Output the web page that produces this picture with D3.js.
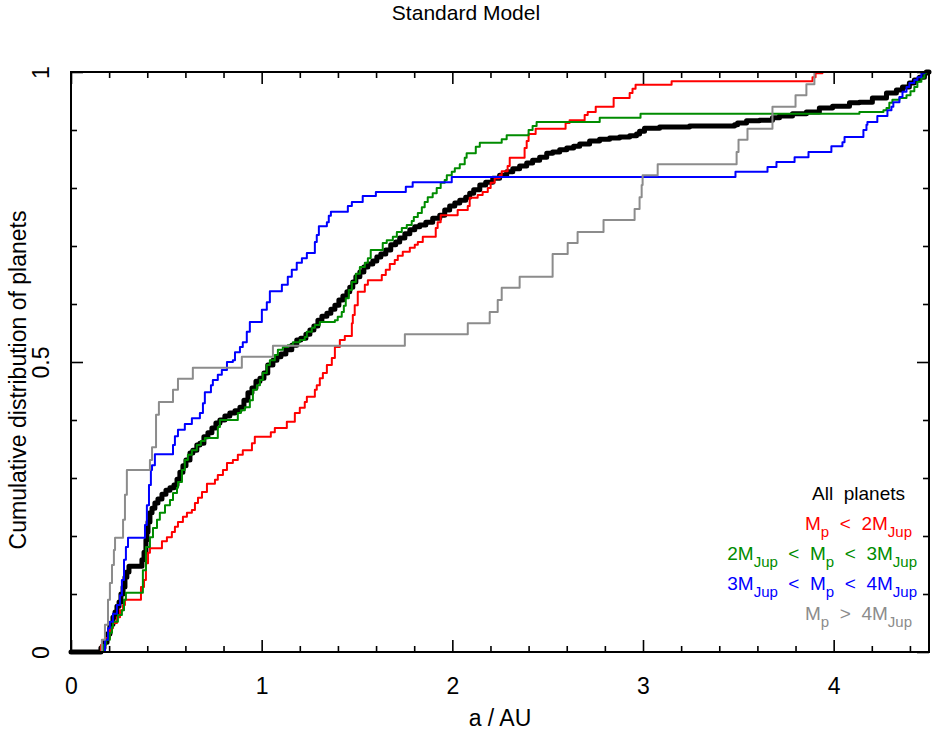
<!DOCTYPE html>
<html><head><meta charset="utf-8">
<script src="https://cdn.jsdelivr.net/npm/d3@7/dist/d3.min.js"></script>
<style>
html,body{margin:0;padding:0;background:#fff;}
svg text{font-family:"Liberation Sans","DejaVu Sans",sans-serif;white-space:pre;}
</style></head>
<body><svg id="c" width="932" height="738"></svg>
<script>
// ---- data (semi-major axis a in AU, cumulative fraction) ----
const xMajorTicks = [0, 1, 2, 3, 4];
const yMajorTicks = [0, 0.5, 1];
const yTickLabels = ["0", "0.5", "1"];

const allA = [0,0.157,0.173,0.189,0.204,0.220,0.231,0.241,0.252,0.262,0.273,0.283,0.293,0.304,0.372,0.383,0.393,0.398,0.404,0.414,0.425,0.440,0.456,0.477,0.498,0.519,0.540,0.556,0.571,0.587,0.603,0.624,0.639,0.660,0.676,0.697,0.718,0.739,0.760,0.781,0.807,0.833,0.860,0.886,0.907,0.928,0.949,0.970,0.991,1.012,1.032,1.059,1.080,1.101,1.127,1.158,1.184,1.205,1.232,1.253,1.274,1.295,1.316,1.342,1.363,1.384,1.405,1.426,1.447,1.462,1.478,1.494,1.515,1.536,1.557,1.583,1.604,1.625,1.651,1.677,1.703,1.724,1.751,1.777,1.803,1.829,1.861,1.897,1.934,1.960,1.986,2.013,2.039,2.070,2.091,2.112,2.144,2.175,2.212,2.248,2.285,2.317,2.353,2.390,2.421,2.458,2.495,2.526,2.563,2.600,2.636,2.668,2.720,2.772,2.825,2.877,2.930,2.966,2.982,3.008,3.087,3.244,3.480,3.496,3.543,3.611,3.679,3.716,3.784,3.857,3.925,3.994,4.083,4.135,4.203,4.277,4.329,4.361,4.397,4.423,4.450,4.476,4.486,4.5];
const allF = [0,0.007,0.017,0.031,0.048,0.060,0.069,0.079,0.086,0.100,0.112,0.129,0.138,0.148,0.159,0.172,0.193,0.207,0.224,0.240,0.248,0.257,0.264,0.272,0.279,0.283,0.288,0.298,0.310,0.321,0.331,0.343,0.348,0.357,0.360,0.371,0.378,0.386,0.395,0.400,0.407,0.412,0.416,0.422,0.434,0.447,0.455,0.467,0.472,0.481,0.495,0.503,0.509,0.514,0.521,0.529,0.538,0.541,0.548,0.555,0.562,0.572,0.579,0.584,0.591,0.598,0.607,0.614,0.621,0.629,0.638,0.647,0.655,0.664,0.669,0.674,0.681,0.686,0.693,0.702,0.707,0.714,0.721,0.728,0.733,0.736,0.741,0.748,0.753,0.762,0.769,0.774,0.779,0.784,0.791,0.797,0.805,0.810,0.817,0.822,0.828,0.833,0.838,0.843,0.848,0.853,0.860,0.862,0.866,0.869,0.872,0.876,0.881,0.884,0.886,0.888,0.890,0.893,0.898,0.903,0.905,0.907,0.909,0.912,0.916,0.917,0.921,0.924,0.928,0.931,0.938,0.941,0.947,0.948,0.955,0.964,0.969,0.974,0.981,0.986,0.991,0.998,1.0,1.0];

const lowA = [0,0.157,0.178,0.204,0.220,0.241,0.257,0.273,0.283,0.367,0.383,0.393,0.404,0.414,0.477,0.503,0.529,0.545,0.561,0.587,0.608,0.634,0.650,0.666,0.687,0.713,0.755,0.770,0.797,0.818,0.849,0.875,0.901,0.949,0.964,1.048,1.069,1.132,1.174,1.200,1.226,1.237,1.279,1.289,1.305,1.321,1.342,1.368,1.384,1.410,1.436,1.473,1.478,1.488,1.504,1.541,1.557,1.630,1.651,1.672,1.698,1.714,1.740,1.777,1.803,1.819,1.845,1.913,1.923,1.939,2.028,2.081,2.091,2.133,2.159,2.186,2.201,2.222,2.248,2.259,2.290,2.301,2.379,2.390,2.400,2.437,2.594,2.615,2.694,2.710,2.752,2.846,2.930,2.945,2.961,3.150,3.889,3.905,3.941,4.5];
const lowF = [0,0.012,0.024,0.041,0.050,0.060,0.072,0.081,0.090,0.112,0.124,0.153,0.171,0.179,0.191,0.198,0.207,0.216,0.224,0.233,0.240,0.245,0.257,0.266,0.276,0.290,0.297,0.305,0.314,0.326,0.331,0.340,0.348,0.360,0.371,0.379,0.386,0.397,0.412,0.421,0.431,0.440,0.452,0.460,0.472,0.481,0.495,0.507,0.526,0.538,0.545,0.567,0.581,0.598,0.621,0.633,0.641,0.650,0.659,0.669,0.676,0.683,0.690,0.697,0.702,0.707,0.716,0.731,0.741,0.753,0.762,0.769,0.783,0.788,0.793,0.800,0.809,0.817,0.822,0.829,0.838,0.852,0.869,0.881,0.893,0.902,0.912,0.917,0.926,0.931,0.940,0.955,0.964,0.971,0.978,0.984,0.991,0.998,1.0,1.0];

const midA = [0,0.168,0.183,0.204,0.215,0.220,0.246,0.267,0.278,0.288,0.377,0.393,0.414,0.430,0.451,0.466,0.493,0.519,0.535,0.556,0.561,0.582,0.597,0.613,0.634,0.660,0.681,0.702,0.770,0.781,0.875,0.891,0.912,0.938,0.954,0.975,0.991,1.006,1.027,1.043,1.069,1.085,1.111,1.137,1.164,1.200,1.226,1.237,1.263,1.279,1.305,1.384,1.399,1.420,1.431,1.441,1.457,1.473,1.494,1.515,1.541,1.557,1.572,1.635,1.656,1.688,1.709,1.735,1.761,1.787,1.798,1.819,1.840,1.855,1.871,1.897,1.918,1.939,1.960,1.971,1.997,2.013,2.039,2.065,2.075,2.123,2.144,2.259,2.285,2.400,2.421,2.442,2.773,2.987,4.135,4.261,4.277,4.292,4.308,4.345,4.382,4.403,4.423,4.439,4.460,4.476,4.486,4.5];
const midF = [0,0.012,0.021,0.033,0.043,0.052,0.064,0.072,0.090,0.102,0.141,0.181,0.198,0.214,0.228,0.240,0.253,0.262,0.274,0.283,0.293,0.314,0.331,0.340,0.348,0.357,0.364,0.369,0.388,0.400,0.412,0.417,0.422,0.434,0.452,0.460,0.469,0.481,0.495,0.503,0.512,0.521,0.526,0.529,0.534,0.538,0.543,0.552,0.559,0.564,0.569,0.572,0.578,0.586,0.597,0.610,0.624,0.638,0.652,0.664,0.671,0.679,0.693,0.705,0.710,0.716,0.724,0.731,0.736,0.743,0.750,0.757,0.767,0.776,0.784,0.791,0.800,0.809,0.814,0.822,0.828,0.834,0.841,0.852,0.860,0.871,0.878,0.884,0.891,0.900,0.907,0.914,0.921,0.928,0.931,0.934,0.938,0.947,0.952,0.955,0.960,0.967,0.974,0.983,0.990,0.998,1.0,1.0];

const highA = [0,0.168,0.178,0.194,0.204,0.220,0.241,0.257,0.267,0.278,0.288,0.299,0.388,0.398,0.409,0.419,0.425,0.440,0.535,0.545,0.561,0.597,0.634,0.676,0.692,0.702,0.734,0.744,0.770,0.791,0.818,0.849,0.860,0.886,0.901,0.922,0.938,1.001,1.027,1.043,1.106,1.137,1.158,1.184,1.211,1.237,1.279,1.289,1.300,1.342,1.352,1.363,1.452,1.473,1.530,1.599,1.756,1.792,1.997,3.485,3.653,3.700,3.795,3.868,3.988,4.046,4.057,4.156,4.172,4.177,4.229,4.282,4.303,4.313,4.345,4.361,4.382,4.397,4.423,4.439,4.460,4.476,4.5];
const highF = [0,0,0.021,0.041,0.052,0.066,0.081,0.098,0.124,0.159,0.181,0.197,0.219,0.253,0.288,0.314,0.322,0.341,0.357,0.372,0.383,0.393,0.403,0.412,0.429,0.448,0.460,0.469,0.478,0.486,0.500,0.503,0.517,0.526,0.534,0.552,0.569,0.590,0.603,0.622,0.633,0.647,0.659,0.671,0.679,0.688,0.707,0.719,0.734,0.741,0.752,0.759,0.769,0.776,0.786,0.793,0.802,0.810,0.819,0.828,0.836,0.845,0.853,0.862,0.872,0.879,0.888,0.900,0.909,0.914,0.924,0.934,0.940,0.948,0.957,0.966,0.974,0.981,0.986,0.991,0.998,1.0,1.0];

const topA = [0,0.162,0.178,0.194,0.204,0.215,0.225,0.231,0.273,0.283,0.293,0.414,0.425,0.446,0.461,0.535,0.561,0.639,0.896,1.059,1.751,2.081,2.196,2.238,2.259,2.353,2.526,2.605,2.657,2.793,2.956,2.982,2.993,2.998,3.077,3.491,3.501,3.548,3.679,3.800,3.857,3.899,4.5];
const topF = [0,0.021,0.047,0.090,0.119,0.150,0.176,0.197,0.228,0.271,0.314,0.331,0.353,0.409,0.431,0.452,0.471,0.490,0.509,0.528,0.548,0.567,0.586,0.607,0.628,0.647,0.686,0.705,0.724,0.745,0.764,0.784,0.805,0.822,0.841,0.862,0.883,0.902,0.940,0.960,0.979,1.0,1.0];

const seriesColors = ["#000000","#ff0000","#008c00","#0000ff","#8c8c8c"];

// ---- chart ----
const svg = d3.select("#c");
const x = d3.scaleLinear().domain([0, 4.5]).range([71, 929]);
const y = d3.scaleLinear().domain([0, 1]).range([652, 72]);

const line = d3.line().x(d => x(d[0])).y(d => y(d[1])).curve(d3.curveStepAfter);
const zipS = (a, f) => a.map((v, i) => [v, f[i]]);

const series = [
  {data: zipS(allA, allF), color: seriesColors[0], w: 5},
  {data: zipS(lowA, lowF), color: seriesColors[1], w: 2},
  {data: zipS(midA, midF), color: seriesColors[2], w: 2},
  {data: zipS(highA, highF), color: seriesColors[3], w: 2},
  {data: zipS(topA, topF), color: seriesColors[4], w: 2}
];
const g = svg.append("g");
series.forEach(s => {
  g.append("path").datum(s.data).attr("d", line)
    .attr("fill", "none").attr("stroke", s.color)
    .attr("stroke-width", s.w).attr("stroke-linejoin", "round").attr("stroke-linecap", "round");
});

// axes (ticks inward on all four sides)
const xMinor = d3.range(0, 4.5001, 0.2).filter(v => Math.abs(v - Math.round(v)) > 1e-6);
const yMinor = d3.range(0, 1.0001, 0.1).filter(v => Math.abs(v * 2 - Math.round(v * 2)) > 1e-6);

function axisStyle(sel) {
  sel.select(".domain").remove();
  sel.selectAll("line").attr("stroke", "#000").attr("stroke-width", 1.6);
  sel.selectAll("text").attr("fill", "#000").style("font-size", "23px");
}
const xa = svg.append("g").attr("transform", "translate(0,652)")
  .call(d3.axisBottom(x).tickValues(xMajorTicks).tickSize(-12).tickPadding(26).tickFormat(d3.format("d")));
axisStyle(xa);
xa.selectAll("text").attr("dy", "0.71em");
svg.append("g").attr("transform", "translate(0,652)")
  .call(d3.axisBottom(x).tickValues(xMinor).tickSize(-6).tickFormat("")).call(axisStyle);
svg.append("g").attr("transform", "translate(0,72)")
  .call(d3.axisTop(x).tickValues(xMajorTicks).tickSize(-12).tickFormat("")).call(axisStyle);
svg.append("g").attr("transform", "translate(0,72)")
  .call(d3.axisTop(x).tickValues(xMinor).tickSize(-6).tickFormat("")).call(axisStyle);

const ya = svg.append("g").attr("transform", "translate(71,0)")
  .call(d3.axisLeft(y).tickValues(yMajorTicks).tickSize(-12).tickFormat((d, i) => yTickLabels[i]));
axisStyle(ya);
ya.selectAll("text").attr("text-anchor", "middle").attr("x", 0).attr("dy", 0)
  .attr("transform", "translate(-22,0) rotate(-90)");
svg.append("g").attr("transform", "translate(71,0)")
  .call(d3.axisLeft(y).tickValues(yMinor).tickSize(-6).tickFormat("")).call(axisStyle);
svg.append("g").attr("transform", "translate(929,0)")
  .call(d3.axisRight(y).tickValues(yMajorTicks).tickSize(-12).tickFormat("")).call(axisStyle);
svg.append("g").attr("transform", "translate(929,0)")
  .call(d3.axisRight(y).tickValues(yMinor).tickSize(-6).tickFormat("")).call(axisStyle);

svg.append("rect").attr("x", 71).attr("y", 72).attr("width", 858).attr("height", 580)
  .attr("fill", "none").attr("stroke", "#000").attr("stroke-width", 2);

// titles
svg.append("text").attr("x", 466).attr("y", 20).attr("text-anchor", "middle")
  .style("font-size", "21px").text("Standard Model");
svg.append("text").attr("x", 500).attr("y", 726).attr("text-anchor", "middle")
  .style("font-size", "23px").text("a / AU");
svg.append("text").attr("transform", "translate(26,380) rotate(-90)").attr("text-anchor", "middle")
  .style("font-size", "23px").text("Cumulative distribution of planets");

// legend
const legendRows = [
  [["All  planets", 0]],
  [["M", 0], ["p", 1], ["  <  2M", 0], ["Jup", 1]],
  [["2M", 0], ["Jup", 1], ["  <  M", 0], ["p", 1], ["  <  3M", 0], ["Jup", 1]],
  [["3M", 0], ["Jup", 1], ["  <  M", 0], ["p", 1], ["  <  4M", 0], ["Jup", 1]],
  [["M", 0], ["p", 1], ["  >  4M", 0], ["Jup", 1]]
];
const legendColors = ["#000000", "#ff0000", "#008c00", "#0000ff", "#8c8c8c"];
const legendRight = [905, 912, 917, 917, 912];
legendRows.forEach((row, i) => {
  const t = svg.append("text").attr("x", legendRight[i]).attr("y", 500 + i * 30)
    .attr("text-anchor", "end").attr("fill", legendColors[i]).style("font-size", "19px");
  row.forEach(([s, sub], j) => {
    const ts = t.append("tspan").text(s);
    if (sub) ts.attr("dy", 7).style("font-size", "15px");
    else if (j > 0 && row[j - 1][1]) ts.attr("dy", -7);
  });
});
</script></body></html>
